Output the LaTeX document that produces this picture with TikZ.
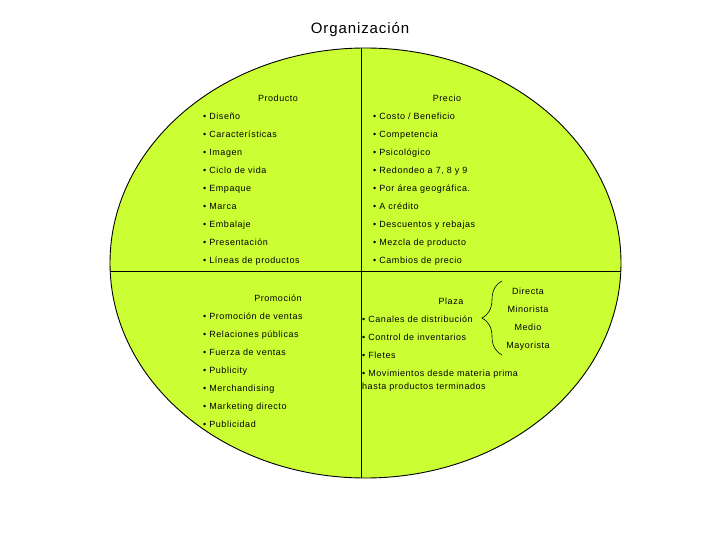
\documentclass[tikz,border=0pt]{standalone}
\usepackage{fontspec}
\setmainfont{Liberation Sans}
\newfontfamily\spaced[LetterSpace=6]{Liberation Sans}
\usetikzlibrary{decorations.pathreplacing}
\definecolor{lime}{RGB}{204,255,51}
\begin{document}
\begin{tikzpicture}[x=1pt,y=-1pt,
  item/.style={anchor=base west,inner sep=0pt,font=\spaced\fontsize{9}{10}\selectfont},
  head/.style={anchor=base,inner sep=0pt,font=\spaced\fontsize{9}{10}\selectfont},
  border/.style={draw=black,line width=0.9pt}]
\useasboundingbox (0,0) rectangle (720,540);
\fill[lime] (365.5,263) ellipse [x radius=255.5, y radius=215];
\begin{scope}
\clip (365.5,263) ellipse [x radius=255.5, y radius=215];
\draw[border] (361,0) -- (361,540);
\draw[border] (0,271) -- (720,271);
\end{scope}
\draw[border] (365.5,263) ellipse [x radius=255.5, y radius=215];
\node[head,font=\spaced\fontsize{15}{17}\selectfont] (title) at (360,33.5) {Organización};
% Producto
\node[head] (prod) at (278,101.5) {Producto};
\foreach \t [count=\i from 0] in {Diseño,Características,Imagen,Ciclo de vida,Empaque,Marca,Embalaje,Presentación,Líneas de productos}
  \node[item] (p\i) at (203,119.5+18*\i) {• \t};
% Precio
\node[head] (prec) at (447,101.5) {Precio};
\foreach \t [count=\i from 0] in {Costo / Beneficio,Competencia,Psicológico,{Redondeo a 7, 8 y 9},Por área geográfica.,A crédito,Descuentos y rebajas,Mezcla de producto,Cambios de precio}
  \node[item] (r\i) at (373,119.5+18*\i) {• \t};
% Promocion
\node[head] (prom) at (278,301.5) {Promoción};
\foreach \t [count=\i from 0] in {Promoción de ventas,Relaciones públicas,Fuerza de ventas,Publicity,Merchandising,Marketing directo,Publicidad}
  \node[item] (m\i) at (203,319.5+18*\i) {• \t};
% Plaza
\node[head] (plaza) at (451,304.5) {Plaza};
\foreach \t [count=\i from 0] in {Canales de distribución,Control de inventarios,Fletes}
  \node[item] (z\i) at (362,322.5+18*\i) {• \t};
\node[item] (z3) at (362,376.5) {• Movimientos desde materia prima};
\node[item] (z4) at (362,389.5) {hasta productos terminados};
\coordinate (bb) at (502,355);
\coordinate (bt) at (502,281);
\draw[decorate,decoration={brace,amplitude=20pt},line width=0.6pt] (bb) -- (bt);
\node[head] (d1) at (528,294.5) {Directa};
\node[head] (d2) at (528,312.5) {Minorista};
\node[head] (d3) at (528,330.5) {Medio};
\node[head] (d4) at (528,348.5) {Mayorista};
\end{tikzpicture}
\end{document}
